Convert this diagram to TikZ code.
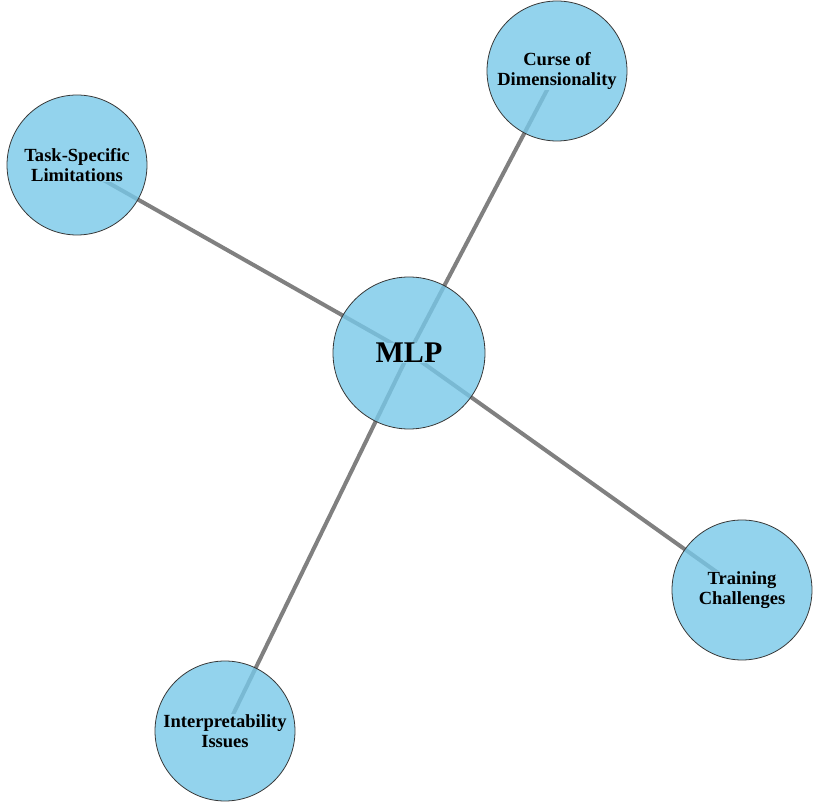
\documentclass[tikz,border=0pt]{standalone}
\usepackage{fontspec}
\setmainfont{Liberation Serif}
\usetikzlibrary{backgrounds}

\definecolor{topicfill}{RGB}{120,200,232}
\definecolor{textback}{RGB}{147,211,237}
\definecolor{linkgray}{RGB}{128,128,128}
\definecolor{rimgray}{RGB}{55,55,55}

\begin{document}
\begin{tikzpicture}[x=0.75pt, y=-0.75pt,
  topic/.style={circle, draw=rimgray, line width=0.6pt, fill=topicfill,
    fill opacity=0.8, minimum size=#1, inner sep=0pt},
  topictext/.style={fill=textback, inner sep=0.5pt, align=center,
    font=\bfseries\fontsize{13.9}{15}\selectfont},
  link/.style={draw=linkgray, line width=3pt}]
  \useasboundingbox (0,0) rectangle (819,805);
  % circles
  \node[topic=114pt] (mlp)    at (409,353) {};
  \node[topic=105pt] (curse)  at (557,71)  {};
  \node[topic=105pt] (task)   at (77,165)  {};
  \node[topic=105pt] (train)  at (742,590) {};
  \node[topic=105pt] (interp) at (225,731) {};
  % links
  \begin{scope}[on background layer]
    \draw[link] (mlp.center) -- (curse.center);
    \draw[link] (mlp.center) -- (task.center);
    \draw[link] (mlp.center) -- (train.center);
    \draw[link] (mlp.center) -- (interp.center);
  \end{scope}
  % texts
  \node[topictext, font=\bfseries\fontsize{22.5}{24}\selectfont] at (mlp) {MLP};
  \node[topictext] at (curse)  {Curse of\\Dimensionality};
  \node[topictext] at (task)   {Task-Specific\\Limitations};
  \node[topictext] at (train)  {Training\\Challenges};
  \node[topictext] at (interp) {Interpretability\\Issues};
\end{tikzpicture}
\end{document}
